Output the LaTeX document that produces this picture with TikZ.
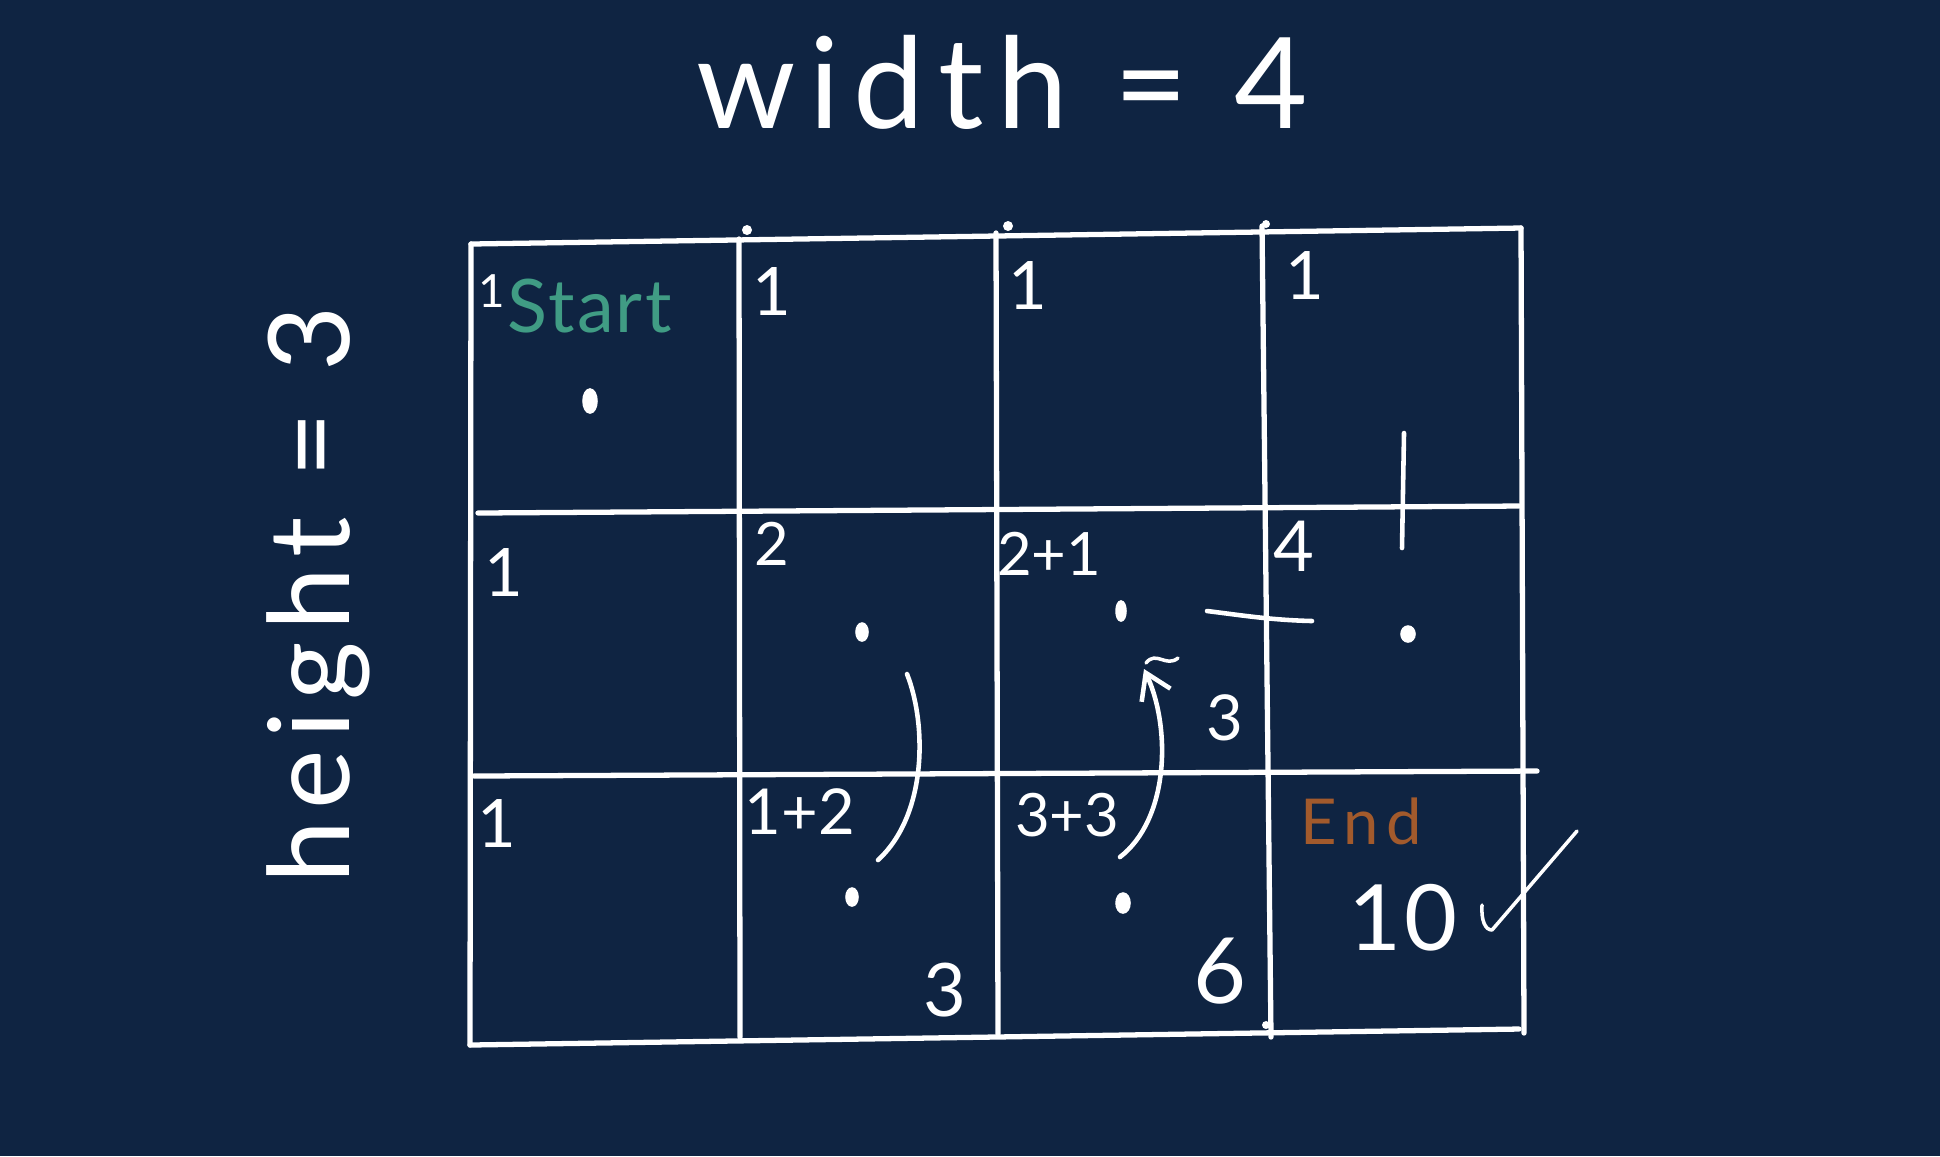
\documentclass[tikz,border=0pt]{standalone}
\usepackage{fontspec}
\setmainfont{Lato}
\usetikzlibrary{arrows.meta}
\definecolor{bg}{RGB}{15,36,66}
\definecolor{startc}{RGB}{64,156,132}
\definecolor{endc}{RGB}{162,90,44}
\tikzset{
  gridline/.style={white, line width=1.5pt, line cap=round},
  pen/.style={white, line width=1.3pt, line cap=round, line join=round},
  lbl/.style={text=white, inner sep=0pt},
  dotmark/.style={white, fill=white, line width=1pt},
}
\newcommand{\fs}[1]{\fontsize{#1}{#1}\selectfont}
\begin{document}
\begin{tikzpicture}[x=0.01cm, y=-0.01cm]
\fill[bg] (0,0) rectangle (1940,1156);
\useasboundingbox (0,0) rectangle (1940,1156);

% grid corners
\coordinate (v1t) at (471,244); \coordinate (v1b) at (470,1045);
\coordinate (v2t) at (739,239); \coordinate (v2b) at (740,1037);
\coordinate (v3t) at (996,233); \coordinate (v3b) at (998,1034);
\coordinate (v4t) at (1262,226); \coordinate (v4b) at (1271,1037);
\coordinate (v5t) at (1521,228); \coordinate (v5b) at (1524,1033);
\coordinate (h2l) at (478,513); \coordinate (h2r) at (1519,506);
\coordinate (h3l) at (474,776); \coordinate (h3r) at (1537,771);
\coordinate (h4r) at (1519,1029);

\draw[gridline] (v1t) -- (v1b);
\draw[gridline] (v2t) -- (v2b);
\draw[gridline] (v3t) -- (v3b);
\draw[gridline] (v4t) -- (v4b);
\draw[gridline] (v5t) -- (v5b);
\draw[gridline] (v1t) -- (v5t);
\draw[gridline] (h2l) -- (h2r);
\draw[gridline] (h3l) -- (h3r);
\draw[gridline] (v1b) -- (h4r);

% small pen blobs on the grid
\fill[white] (747,230) circle (5);
\fill[white] (1008,226) circle (5);
\fill[white] (1266,224) circle (4);
\fill[white] (1266,1025) circle (4);

% titles
\node[lbl, anchor=base] (title) at (1002,128)
  {\fs{36}\addfontfeature{LetterSpace=11}width = 4};
\node[lbl, anchor=base, rotate=90] (side) at (349,595)
  {\fs{32}\addfontfeature{LetterSpace=10}height = 3};

% row 1
\node[lbl] (n11s) at (492,291) {\fs{13}1};
\node[lbl, text=startc, anchor=base west] (start) at (507,332)
  {\fs{21}\addfontfeature{LetterSpace=3}Start};
\node[lbl] (n12) at (772,291) {\fs{19}1};
\node[lbl] (n13) at (1028,285) {\fs{19}1};
\node[lbl] (n14) at (1305,275) {\fs{19}1};

% row 2
\node[lbl] (n21) at (504,572) {\fs{19}1};
\node[lbl] (n22) at (772,544) {\fs{17}2};
\node[lbl] (n23) at (1049,554) {\fs{17}2+1};
\node[lbl] (n24) at (1294,546) {\fs{20}4};
\node[lbl] (n23b) at (1225,718) {\fs{18}3};

% row 3
\node[lbl] (n31) at (497,823) {\fs{19}1};
\node[lbl] (n32) at (800,812) {\fs{18}1+2};
\node[lbl] (n33) at (1067,815) {\fs{17}3+3};
\node[lbl] (n32b) at (945,990) {\fs{21}3};
\node[lbl] (n33b) at (1220,971) {\fs{26}6};
\node[lbl, text=endc] (endl) at (1361,821)
  {\fs{18}\addfontfeature{LetterSpace=12}End};
\node[lbl] (ten) at (1403,918) {\fs{26}\addfontfeature{LetterSpace=4}10};

% cell dots
\draw[dotmark] (590,401) ellipse (6 and 11);
\draw[dotmark] (862,632) ellipse (5 and 8);
\draw[dotmark] (1121,611) ellipse (4 and 9);
\draw[dotmark] (1408,634) ellipse (6 and 7);
\draw[dotmark] (852,897) ellipse (5 and 8);
\draw[dotmark] (1123,903) ellipse (6 and 9);

% strokes
\coordinate (vs1) at (1404,433); \coordinate (vs2) at (1402,548);
\draw[pen] (vs1) -- (vs2);
\coordinate (hs1) at (1207,611); \coordinate (hs2) at (1312,621);
\draw[pen] (hs1) .. controls (1240,615) and (1270,620) .. (hs2);

\coordinate (c1) at (907,674); \coordinate (c2) at (878,860);
\draw[pen] (c1) .. controls (927,725) and (927,815) .. (c2);

\coordinate (a1) at (1120,857); \coordinate (a2) at (1144,669);
\draw[pen, -{Straight Barb[length=7pt, width=9pt]}] (a1) .. controls (1168,820) and (1172,730) .. (a2);
\coordinate (t1) at (1146,663); \coordinate (t2) at (1178,658);
\draw[pen, line width=1pt] (t1) .. controls (1156,650) and (1166,668) .. (t2);

\coordinate (k1) at (1482,905); \coordinate (k2) at (1492,930); \coordinate (k3) at (1577,831);
\draw[pen, line width=1pt] (k1) .. controls (1481,920) and (1485,930) .. (k2) -- (k3);
\end{tikzpicture}
\end{document}
